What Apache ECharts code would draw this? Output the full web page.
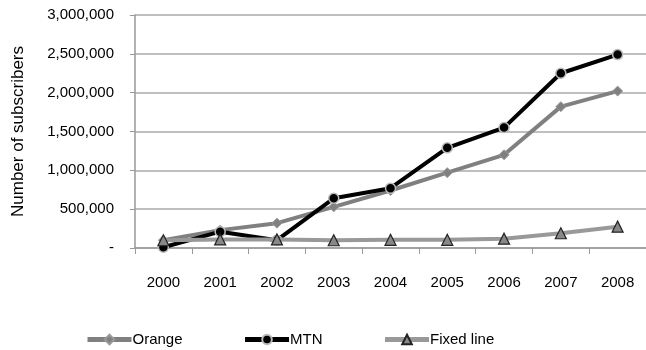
<!DOCTYPE html>
<html><head><meta charset="utf-8">
<script src="https://cdn.jsdelivr.net/npm/echarts@6/dist/echarts.min.js"></script>
<style>html,body{margin:0;padding:0;background:#fff}#c{width:646px;height:350px}</style>
</head><body><div id="c"></div>
<script>
var years = ['2000','2001','2002','2003','2004','2005','2006','2007','2008'];
var orange = [100000, 230000, 320000, 530000, 740000, 970000, 1200000, 1820000, 2020000];
var mtn = [10000, 210000, 100000, 640000, 770000, 1290000, 1550000, 2250000, 2490000];
var fixedLine = [100000, 110000, 110000, 100000, 105000, 105000, 120000, 190000, 275000];
var FONT = '"Liberation Sans", Arial, sans-serif';
var chart = echarts.init(document.getElementById('c'));
chart.setOption({
  animation: false,
  textStyle: {fontFamily: FONT},
  grid: {left: 135, top: 15, width: 512, height: 233, containLabel: false},
  legend: {
    top: 327, left: 80, itemGap: 60, itemWidth: 44, itemHeight: 12,
    lineStyle: {width: 5},
    textStyle: {fontFamily: FONT, fontSize: 15, color: '#000', padding: [0,0,0,-4]},
    data: ['Orange','MTN','Fixed line']
  },
  xAxis: {
    type: 'category', data: years, boundaryGap: true,
    axisLine: {lineStyle: {color: '#999', width: 1.5}},
    axisTick: {show: true, length: 6, lineStyle: {color: '#999'}},
    axisLabel: {fontFamily: FONT, fontSize: 15, color: '#000', margin: 27}
  },
  yAxis: {
    type: 'value', min: 0, max: 3000000, interval: 500000,
    name: 'Number of subscribers', nameLocation: 'middle', nameGap: 108,
    nameTextStyle: {fontFamily: FONT, fontSize: 17, color: '#000'},
    axisLine: {show: true, lineStyle: {color: '#999', width: 1.5}},
    axisTick: {show: true, length: 5, lineStyle: {color: '#999'}},
    splitLine: {lineStyle: {color: '#aaa', width: 1.5}},
    axisLabel: {fontFamily: FONT, fontSize: 15, color: '#000', margin: 21,
      formatter: function(v){ return v === 0 ? '-' : v.toLocaleString('en-US'); }}
  },
  series: [
    {name: 'Orange', type: 'line', data: orange, symbol: 'diamond', symbolSize: 10,
      lineStyle: {color: '#808080', width: 4}, itemStyle: {color: '#808080', borderColor: '#999', borderWidth: 1}, z: 2},
    {name: 'MTN', type: 'line', data: mtn, symbol: 'circle', symbolSize: 10,
      lineStyle: {color: '#000', width: 4}, itemStyle: {color: '#000', borderColor: '#bbb', borderWidth: 1.5}, z: 3},
    {name: 'Fixed line', type: 'line', data: fixedLine, symbol: 'triangle', symbolSize: 11,
      lineStyle: {color: '#999', width: 4}, itemStyle: {color: '#888', borderColor: '#222', borderWidth: 1.2}, z: 4}
  ]
});
</script></body></html>
